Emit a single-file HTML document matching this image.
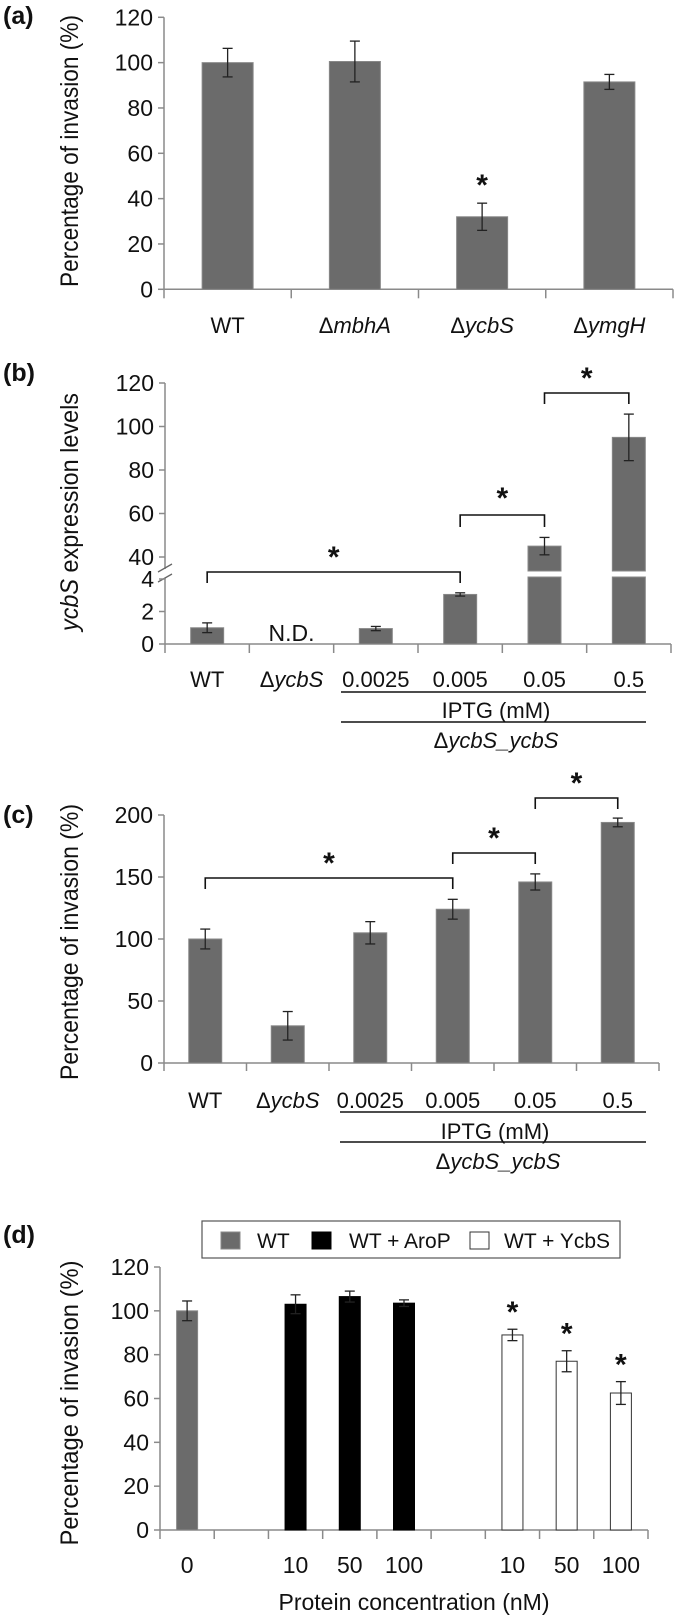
<!DOCTYPE html>
<html><head><meta charset="utf-8"><style>
html,body{margin:0;padding:0;background:#fff;}
svg{display:block;font-family:"Liberation Sans",sans-serif;}
</style></head><body>
<svg id="fig" width="675" height="1618" viewBox="0 0 675 1618" xmlns="http://www.w3.org/2000/svg"></svg>
<script>
// ---- data ----
const aCategories=['WT','ΔmbhA','ΔycbS','ΔymgH'];
const aValues=[100,100.5,32,91.5];
const aErrors=[6.3,9,6,3.3];
const aTicks=[0,20,40,60,80,100,120];

const bCategories=['WT','ΔycbS','0.0025','0.005','0.05','0.5'];
const bValues=[1.0,null,0.95,3.05,45,95];
const bErrors=[0.3,0,0.13,0.1,4,10.7];
const bTicksLow=[0,2,4];
const bTicksHigh=[40,60,80,100,120];

const cCategories=['WT','ΔycbS','0.0025','0.005','0.05','0.5'];
const cValues=[100,30,105,124,146,194];
const cErrors=[8,11.5,9,8,6.5,3.5];
const cTicks=[0,50,100,150,200];

const dCategories=['0','','10','50','100','','10','50','100'];
const dValues=[100,null,103,106.5,103.5,null,89,77,62.5];
const dErrors=[4.5,0,4.3,2.5,1.5,0,2.6,4.8,5.2];
const dGroups=[0,-1,1,1,1,-1,2,2,2];
const dSignif=[false,false,false,false,false,false,true,true,true];
const dTicks=[0,20,40,60,80,100,120];
const dLegend=['WT','WT + AroP','WT + YcbS'];

const svg=document.getElementById('fig');
const NS='http://www.w3.org/2000/svg';
const FS=22;
function mk(tag,attrs,parent){const e=document.createElementNS(NS,tag);for(const k in attrs)e.setAttribute(k,attrs[k]);(parent||svg).appendChild(e);return e;}
function txt(x,y,s,size,anchor,parent,extra){const t=mk('text',Object.assign({x:x,y:y,'font-size':size,'text-anchor':anchor||'middle',fill:'#111'},extra||{}),parent);t.textContent=s;return t;}
function catLabel(x,y,s,parent){
  const t=mk('text',{x:x,y:y,'font-size':FS,'text-anchor':'middle',fill:'#111'},parent);
  
  
  if(s.startsWith('Δ')){const a=mk('tspan',{},t);a.textContent='Δ';const b=mk('tspan',{'font-style':'italic'},t);b.textContent=s.slice(1);}
  else t.textContent=s;
  return t;
}
const BAR='#6b6b6b',AX='#8a8a8a';
function errBar(x,y1,y2,g){
  const e=mk('g',{},g);
  
  
  mk('line',{x1:x,x2:x,y1:y1,y2:y2,stroke:'#222','stroke-width':1.3},e);
  mk('line',{x1:x-5,x2:x+5,y1:y1,y2:y1,stroke:'#222','stroke-width':1.3},e);
  mk('line',{x1:x-5,x2:x+5,y1:y2,y2:y2,stroke:'#222','stroke-width':1.3},e);
}
function star(x,y,g){const t=txt(x,y+14,'*',30,'middle',g,{'font-weight':'bold'});}
function bracket(x1,x2,y,yEnd,g){
  const p=mk('path',{d:`M${x1},${yEnd}V${y}H${x2}V${yEnd}`,fill:'none',stroke:'#111','stroke-width':1.6},g);
  
  
}
function panelLabel(x,y,s){const t=txt(x,y,s,25,'start',svg,{'font-weight':'bold'});}
function yTitle(cx,cy,len,parts,g){
  const t=mk('text',{x:0,y:0,'font-size':25,'text-anchor':'middle',fill:'#111',transform:`translate(${cx},${cy}) rotate(-90)`,textLength:len,lengthAdjust:'spacingAndGlyphs'},g);
  
  
  parts.forEach(p=>{const s=mk('tspan',p[1]?{'font-style':'italic'}:{},t);s.textContent=p[0];});
}
function axisX(x0,x1,y0,n,tickLen,g){
  mk('line',{x1:x0,x2:x1,y1:y0,y2:y0,stroke:AX,'stroke-width':1.5},g);
  const w=(x1-x0)/n;
  for(let i=0;i<=n;i++)mk('line',{x1:x0+i*w,x2:x0+i*w,y1:y0,y2:y0+tickLen,stroke:AX,'stroke-width':1.5},g);
}
function yTick(X0,yy,t,g){mk('line',{x1:X0-6,x2:X0,y1:yy,y2:yy,stroke:AX,'stroke-width':1.5},g);const l=txt(X0-11,yy+8,String(t),FS+1,'end',g);}

// ---- panel a ----
(function(){
  const g=mk('g',{});
  const X0=164,X1=673,Y0=289.3,Y120=17.3;
  const y=v=>Y0-(v/120)*(Y0-Y120);
  const w=(X1-X0)/aCategories.length;
  mk('line',{x1:X0,x2:X0,y1:y(120),y2:Y0,stroke:AX,'stroke-width':1.5},g);
  aTicks.forEach(t=>yTick(X0,y(t),t,g));
  axisX(X0,X1,Y0,aCategories.length,9,g);
  aValues.forEach((v,i)=>{const cx=X0+w*(i+0.5);
    const r=mk('rect',{x:cx-25.5,y:y(v),width:51,height:Y0-y(v),fill:BAR,stroke:'#888','stroke-width':1},g);
    
    errBar(cx,y(v+aErrors[i]),y(v-aErrors[i]),g);
    catLabel(cx,333,aCategories[i],g);});
  star(X0+w*2.5,y(aValues[2]+aErrors[2])-22,g);
  yTitle(78,151,272,[['Percentage of invasion (%)',false]],g);
})();
panelLabel(3,24,'(a)');

// ---- panel b ----
(function(){
  const g=mk('g',{});
  const X0=165,X1=671,Y0=644;
  const y=v=>v<=4?Y0-v*16.25:557-(v-40)*43.5/20;
  const w=(X1-X0)/bCategories.length;
  mk('line',{x1:X0,x2:X0,y1:y(120),y2:569,stroke:AX,'stroke-width':1.5},g);
  mk('line',{x1:X0,x2:X0,y1:578,y2:Y0,stroke:AX,'stroke-width':1.5},g);
  mk('line',{x1:X0-7,x2:X0+7,y1:572,y2:564,stroke:'#666','stroke-width':1.3},g);
  mk('line',{x1:X0-7,x2:X0+7,y1:582,y2:574,stroke:'#666','stroke-width':1.3},g);
  bTicksLow.concat(bTicksHigh).forEach(t=>yTick(X0,y(t),t,g));
  axisX(X0,X1,Y0,bCategories.length,9,g);
  bValues.forEach((v,i)=>{const cx=X0+w*(i+0.5);
    catLabel(cx,687,bCategories[i],g);
    if(v===null){const n=txt(cx,641,'N.D.',FS+1,'middle',g);return;}
    if(v<=4){const r=mk('rect',{x:cx-16.5,y:y(v),width:33,height:Y0-y(v),fill:BAR,stroke:'#888','stroke-width':1},g);}
    else{const r=mk('rect',{x:cx-16.5,y:577,width:33,height:Y0-577,fill:BAR,stroke:'#888','stroke-width':1},g);
      const r2=mk('rect',{x:cx-16.5,y:y(v),width:33,height:571-y(v),fill:BAR,stroke:'#888','stroke-width':1},g);}
    errBar(cx,y(v+bErrors[i]),y(v-bErrors[i]),g);});
  const c=i=>X0+w*(i+0.5);
  bracket(c(0),c(3),572,583,g);star((c(0)+c(3))/2,553,g);
  bracket(c(3),c(4),515,527,g);star((c(3)+c(4))/2,494,g);
  bracket(c(4),c(5),393,404,g);star((c(4)+c(5))/2,374,g);
  mk('line',{x1:341,x2:646,y1:692,y2:692,stroke:'#111','stroke-width':1.5},g);
  const ip=txt(496,718,'IPTG (mM)',FS,'middle',g);
  mk('line',{x1:341,x2:646,y1:722,y2:722,stroke:'#111','stroke-width':1.5},g);
  const s=catLabel(496,748,'ΔycbS_ycbS',g);
  yTitle(78,512,238,[['ycbS',true],[' expression levels',false]],g);
})();
panelLabel(3,381,'(b)');

// ---- panel c ----
(function(){
  const g=mk('g',{});
  const X0=164,X1=659,Y0=1063,Y200=815;
  const y=v=>Y0-(v/200)*(Y0-Y200);
  const w=(X1-X0)/cCategories.length;
  mk('line',{x1:X0,x2:X0,y1:y(200),y2:Y0,stroke:AX,'stroke-width':1.5},g);
  cTicks.forEach(t=>yTick(X0,y(t),t,g));
  axisX(X0,X1,Y0,cCategories.length,8,g);
  cValues.forEach((v,i)=>{const cx=X0+w*(i+0.5);
    const r=mk('rect',{x:cx-16.5,y:y(v),width:33,height:Y0-y(v),fill:BAR,stroke:'#888','stroke-width':1},g);
    
    errBar(cx,y(v+cErrors[i]),y(v-cErrors[i]),g);
    catLabel(cx,1108,cCategories[i],g);});
  const c=i=>X0+w*(i+0.5);
  bracket(c(0),c(3),878,889,g);star((c(0)+c(3))/2,859,g);
  bracket(c(3),c(4),853,864,g);star((c(3)+c(4))/2,834,g);
  bracket(c(4),c(5),798,809,g);star((c(4)+c(5))/2,779,g);
  mk('line',{x1:340,x2:646,y1:1112,y2:1112,stroke:'#111','stroke-width':1.5},g);
  const ip=txt(495,1139,'IPTG (mM)',FS,'middle',g);
  mk('line',{x1:340,x2:646,y1:1142,y2:1142,stroke:'#111','stroke-width':1.5},g);
  const s=catLabel(498,1169,'ΔycbS_ycbS',g);
  yTitle(78,942,276,[['Percentage of invasion (%)',false]],g);
})();
panelLabel(3,823,'(c)');

// ---- panel d ----
(function(){
  const g=mk('g',{});
  const X0=160,X1=648,Y0=1530,Y120=1267;
  const y=v=>Y0-(v/120)*(Y0-Y120);
  const w=(X1-X0)/dCategories.length;
  const fills=['#6b6b6b','#000','#fff'],strokes=['#888','#000','#333'];
  mk('line',{x1:X0,x2:X0,y1:y(120),y2:Y0,stroke:AX,'stroke-width':1.5},g);
  dTicks.forEach(t=>yTick(X0,y(t),t,g));
  axisX(X0,X1,Y0,dCategories.length,9,g);
  dValues.forEach((v,i)=>{const cx=X0+w*(i+0.5);
    if(dCategories[i]){const l=txt(cx,1573,dCategories[i],FS+1,'middle',g);}
    if(v===null)return;
    const r=mk('rect',{x:cx-10.5,y:y(v),width:21,height:Y0-y(v),fill:fills[dGroups[i]],stroke:strokes[dGroups[i]],'stroke-width':1},g);
    
    errBar(cx,y(v+dErrors[i]),y(v-dErrors[i]),g);
    if(dSignif[i])star(cx,y(v+dErrors[i])-21,g);});
  const xt=txt(414,1610,'Protein concentration (nM)',23,'middle',g);
  yTitle(78,1403,285,[['Percentage of invasion (%)',false]],g);
  const lg=mk('g',{},g);
  mk('rect',{x:202,y:1221,width:418,height:37,fill:'#fff',stroke:'#555','stroke-width':1.2},lg);
  const sx=[221,312,470],tx=[257,349,504];
  dLegend.forEach((s,i)=>{
    const e=mk('g',{},lg);
    
    
    mk('rect',{x:sx[i],y:1232,width:19,height:17,fill:fills[i],stroke:strokes[i],'stroke-width':1},e);
    txt(tx[i],1248,s,21,'start',e);});
})();
panelLabel(3,1243,'(d)');
</script>
</body></html>
